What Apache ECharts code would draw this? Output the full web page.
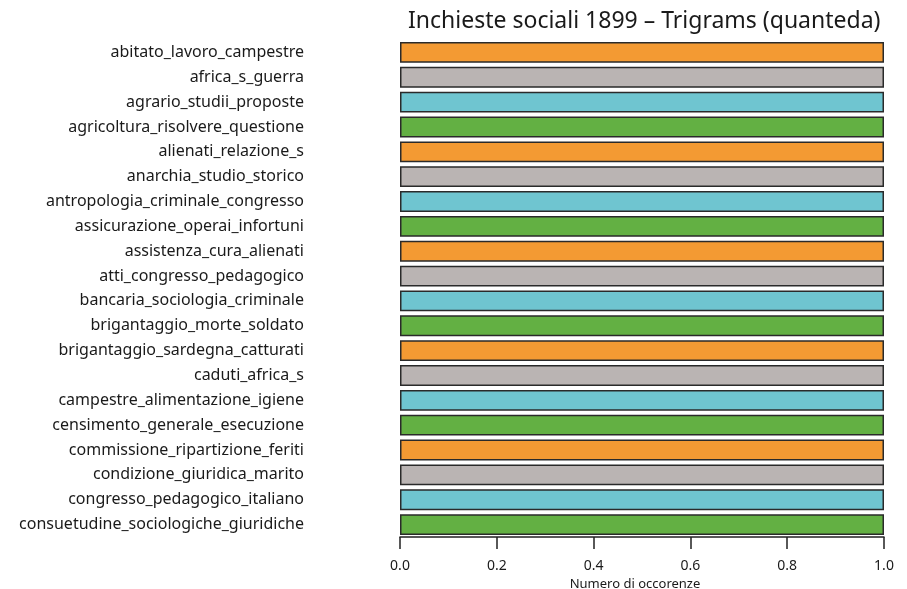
<!DOCTYPE html>
<html><head><meta charset="utf-8">
<script src="https://cdn.jsdelivr.net/npm/echarts@6/dist/echarts.min.js"></script>
<style>html,body{margin:0;padding:0;background:#fff}#c{width:907px;height:589px}</style>
</head><body><div id="c"></div>
<script>
const categories = [
  "abitato_lavoro_campestre","africa_s_guerra","agrario_studii_proposte","agricoltura_risolvere_questione",
  "alienati_relazione_s","anarchia_studio_storico","antropologia_criminale_congresso","assicurazione_operai_infortuni",
  "assistenza_cura_alienati","atti_congresso_pedagogico","bancaria_sociologia_criminale","brigantaggio_morte_soldato",
  "brigantaggio_sardegna_catturati","caduti_africa_s","campestre_alimentazione_igiene","censimento_generale_esecuzione",
  "commissione_ripartizione_feriti","condizione_giuridica_marito","congresso_pedagogico_italiano","consuetudine_sociologiche_giuridiche"
];
const values = [1,1,1,1,1,1,1,1,1,1,1,1,1,1,1,1,1,1,1,1];
const xTicks = [0, 0.2, 0.4, 0.6, 0.8, 1.0];
const palette = ["#f39a33","#bab4b3","#6fc5d0","#63b043"];

const chart = echarts.init(document.getElementById('c'), null, {renderer:'canvas'});
chart.setOption({
  animation:false,
  backgroundColor:'#fff',
  color: palette,
  title:{text:'Inchieste sociali 1899 – Trigrams (quanteda)', left:403, top:5,
    textStyle:{fontFamily:'Noto Sans', fontSize:23, fontWeight:'normal', color:'#1a1a1a'}},
  grid:{left:400, right:23, top:40, bottom:52, outerBoundsMode:'none', containLabel:false},
  xAxis:{type:'value', min:xTicks[0], max:xTicks[xTicks.length-1], interval:0.2,
    axisLine:{show:true, lineStyle:{color:'#222', width:1.5}},
    axisTick:{show:true, length:12, lineStyle:{color:'#222', width:1.5}},
    splitLine:{show:false},
    axisLabel:{formatter:v=>v.toFixed(1), fontFamily:'Noto Sans', fontSize:14, color:'#1a1a1a', margin:22},
    name:'Numero di occorenze', nameLocation:'middle', nameGap:38,
    nameTextStyle:{fontFamily:'Noto Sans', fontSize:13, color:'#1a1a1a', padding:[0,14,0,0]}},
  yAxis:{type:'category', data:categories, inverse:true,
    axisLine:{show:false}, axisTick:{show:false},
    axisLabel:{fontFamily:'Noto Sans', fontSize:16, color:'#1a1a1a', margin:96}},
  series:[{type:'bar', data:values, colorBy:'data', barCategoryGap:'16%',
    itemStyle:{borderColor:'#2a2a2a', borderWidth:1.5}}]
});
</script></body></html>
